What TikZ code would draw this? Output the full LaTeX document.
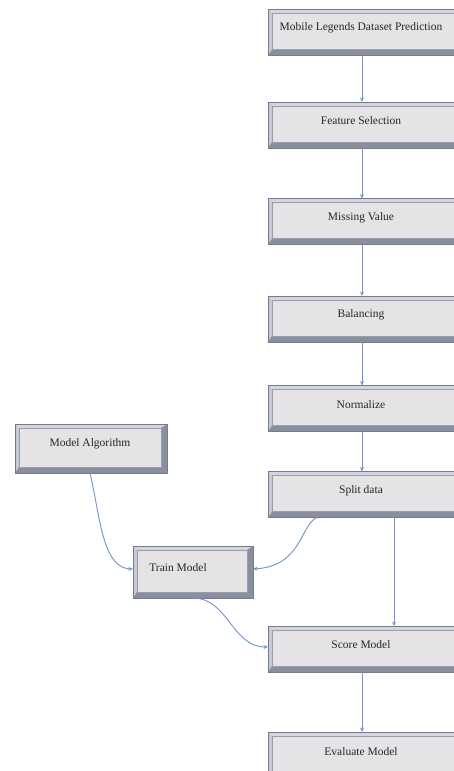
\documentclass[tikz,border=0pt]{standalone}
\usepackage{fontspec}
\setmainfont{Liberation Serif}
\usetikzlibrary{arrows.meta}
\definecolor{facec}{HTML}{E6E3E6}
\definecolor{bevlight}{HTML}{D3D6DF}
\definecolor{bevleft}{HTML}{C6CAD6}
\definecolor{bevdark}{HTML}{8A8FA0}
\definecolor{bordc}{HTML}{767B8C}
\definecolor{innerc}{HTML}{9A9EAB}
\definecolor{linec}{HTML}{7393CC}
\tikzset{
 bev/.style={rectangle, draw=bordc, line width=0.6pt, fill=facec, inner sep=0pt, outer sep=0pt,
  path picture={
   \fill[bevlight] (path picture bounding box.north west) -- (path picture bounding box.north east)
     -- ([shift={(-6pt,-4pt)}]path picture bounding box.north east) -- ([shift={(4pt,-4pt)}]path picture bounding box.north west) -- cycle;
   \fill[bevleft] (path picture bounding box.north west) -- ([shift={(4pt,-4pt)}]path picture bounding box.north west)
     -- ([shift={(4pt,6pt)}]path picture bounding box.south west) -- (path picture bounding box.south west) -- cycle;
   \fill[bevdark] (path picture bounding box.south west) -- (path picture bounding box.south east)
     -- ([shift={(-6pt,6pt)}]path picture bounding box.south east) -- ([shift={(4pt,6pt)}]path picture bounding box.south west) -- cycle;
   \fill[bevdark] (path picture bounding box.north east) -- ([shift={(-6pt,-4pt)}]path picture bounding box.north east)
     -- ([shift={(-6pt,6pt)}]path picture bounding box.south east) -- (path picture bounding box.south east) -- cycle;
   \draw[innerc, line width=0.5pt] ([shift={(4pt,-4pt)}]path picture bounding box.north west) rectangle ([shift={(-6pt,6pt)}]path picture bounding box.south east);
  }},
 colbox/.style={bev, minimum width=194pt, minimum height=46pt},
 lbl/.style={font=\fontsize{11.5}{13}\selectfont, text=black!85},
 conn/.style={draw=linec, line width=0.9pt, -{Stealth[length=4.5pt,width=4pt]}},
}
\begin{document}
\begin{tikzpicture}[x=1pt,y=-1pt]
\clip (0,0) rectangle (454,771);
\fill[white] (0,0) rectangle (454,771);
\node[colbox, label={[lbl,xshift=-4pt,yshift=5pt]center:Mobile Legends Dataset Prediction}] (b1) at (365,32.5) {};
\node[colbox, label={[lbl,xshift=-4pt,yshift=4pt]center:Feature Selection}] (b2) at (365,125) {};
\node[colbox, label={[lbl,xshift=-4pt,yshift=4pt]center:Missing Value}] (b3) at (365,221.5) {};
\node[colbox, label={[lbl,xshift=-4pt,yshift=4pt]center:Balancing}] (b4) at (365,319) {};
\node[colbox, label={[lbl,xshift=-4pt,yshift=4pt]center:Normalize}] (b5) at (365,408.5) {};
\node[colbox, label={[lbl,xshift=-4pt,yshift=4pt]center:Split data}] (b6) at (365,494.5) {};
\node[colbox, label={[lbl,xshift=-4pt,yshift=4pt]center:Score Model}] (b7) at (365,649) {};
\node[colbox, label={[lbl,xshift=-4pt,yshift=3pt]center:Evaluate Model}] (b8) at (365,755) {};
\node[bev, minimum width=152pt, minimum height=49pt, label={[lbl,xshift=-1pt,yshift=4.5pt]center:Model Algorithm}] (alg) at (91,448.5) {};
\node[bev, minimum width=120pt, minimum height=52pt, label={[lbl,xshift=-15pt,yshift=4pt]center:Train Model}] (train) at (193,572) {};
\draw[conn] ([xshift=-3pt]b1.south) -- ([xshift=-3pt]b2.north);
\draw[conn] ([xshift=-3pt]b2.south) -- ([xshift=-3pt]b3.north);
\draw[conn] ([xshift=-3pt]b3.south) -- ([xshift=-3pt]b4.north);
\draw[conn] ([xshift=-3pt]b4.south) -- ([xshift=-3pt]b5.north);
\draw[conn] ([xshift=-3pt]b5.south) -- ([xshift=-3pt]b6.north);
\draw[conn] ([xshift=29pt]b6.south) -- ([xshift=29pt]b7.north);
\draw[conn] ([xshift=-3pt]b7.south) -- ([xshift=-3pt]b8.north);
\draw[conn] ([xshift=-48pt]b6.south) .. controls (300,525) and (302,566) .. ([yshift=3pt]train.east);
\draw[conn] ([xshift=-1pt]alg.south) .. controls (100,515) and (102,568) .. ([yshift=3pt]train.west);
\draw[conn] (train.south) .. controls (228,598) and (232,647) .. ([yshift=2pt]b7.west);
\end{tikzpicture}
\end{document}
